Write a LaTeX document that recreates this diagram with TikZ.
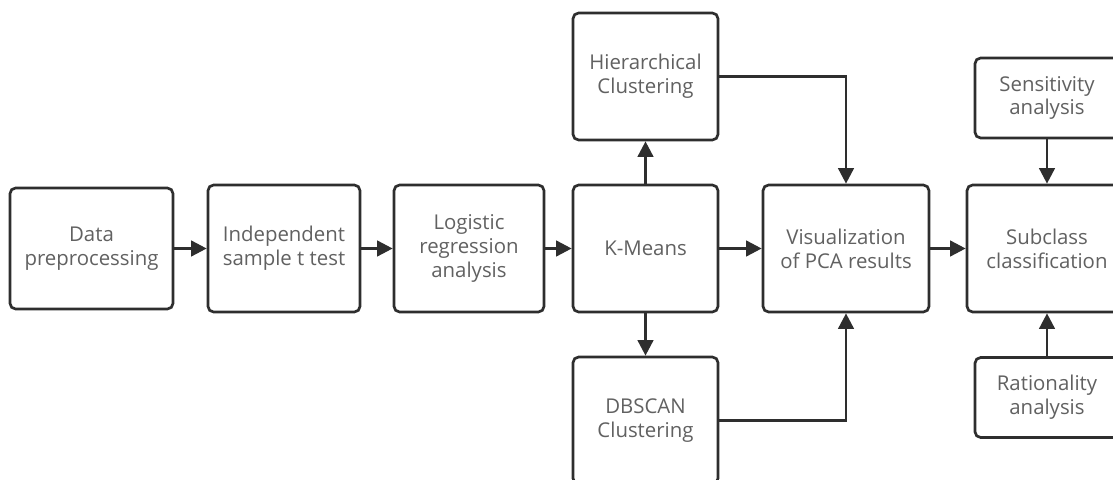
\documentclass[tikz,border=0pt]{standalone}
\usepackage{fontspec}
\setmainfont{Open Sans}
\usetikzlibrary{arrows.meta}
\begin{document}
\begin{tikzpicture}[
  cx/.style={draw=black!82, line width=1.9pt, rounded corners=4pt, fill=white,
    align=center, text=black!62, font=\fontsize{14.5}{17}\selectfont,
    minimum height=3.175cm, inner sep=2pt},
  seta/.style={draw=black!82, line width=1.9pt,
    -{Triangle[length=11pt, width=11pt]}},
]
  % quadro: 1113 x 479 px, 1 px = 0,025 cm
  \useasboundingbox (0,0) rectangle (27.825,11.975);
  \clip (0,0) rectangle (27.825,11.975);

  \node[cx, minimum width=4.075cm, minimum height=3.025cm] (dados) at (2.2875,5.7625) {Data\\preprocessing};
  \node[cx, minimum width=3.8cm] (teste) at (7.1,5.7625) {Independent\\sample t test};
  \node[cx, minimum width=3.75cm] (logit) at (11.725,5.7625) {Logistic\\regression\\analysis};
  \node[cx, minimum width=3.625cm] (kmeans) at (16.1375,5.7625) {K-Means};
  \node[cx, minimum width=3.625cm] (hier) at (16.1375,10.0625) {Hierarchical\\Clustering};
  \node[cx, minimum width=3.625cm] (dbscan) at (16.1375,1.4625) {DBSCAN\\Clustering};
  \node[cx, minimum width=4.15cm] (pca) at (21.15,5.7625) {Visualization\\of PCA results};
  \node[cx, minimum width=4.0cm] (sub) at (26.175,5.7625) {Subclass\\classification};
  \node[cx, minimum width=3.6cm, minimum height=2.0cm] (sens) at (26.175,9.525) {Sensitivity\\analysis};
  \node[cx, minimum width=3.6cm, minimum height=2.0cm] (rac) at (26.175,2.0375) {Rationality\\analysis};

  \draw[seta] (dados) -- (teste);
  \draw[seta] (teste) -- (logit);
  \draw[seta] (logit) -- (kmeans);
  \draw[seta] (kmeans) -- (pca);
  \draw[seta] (pca) -- (sub);
  \draw[seta] (kmeans) -- (hier);
  \draw[seta] (kmeans) -- (dbscan);
  \draw[seta] (hier.east) -| (pca.north);
  \draw[seta] (dbscan.east) -| (pca.south);
  \draw[seta] (sens) -- (sub);
  \draw[seta] (rac) -- (sub);
\end{tikzpicture}
\end{document}
